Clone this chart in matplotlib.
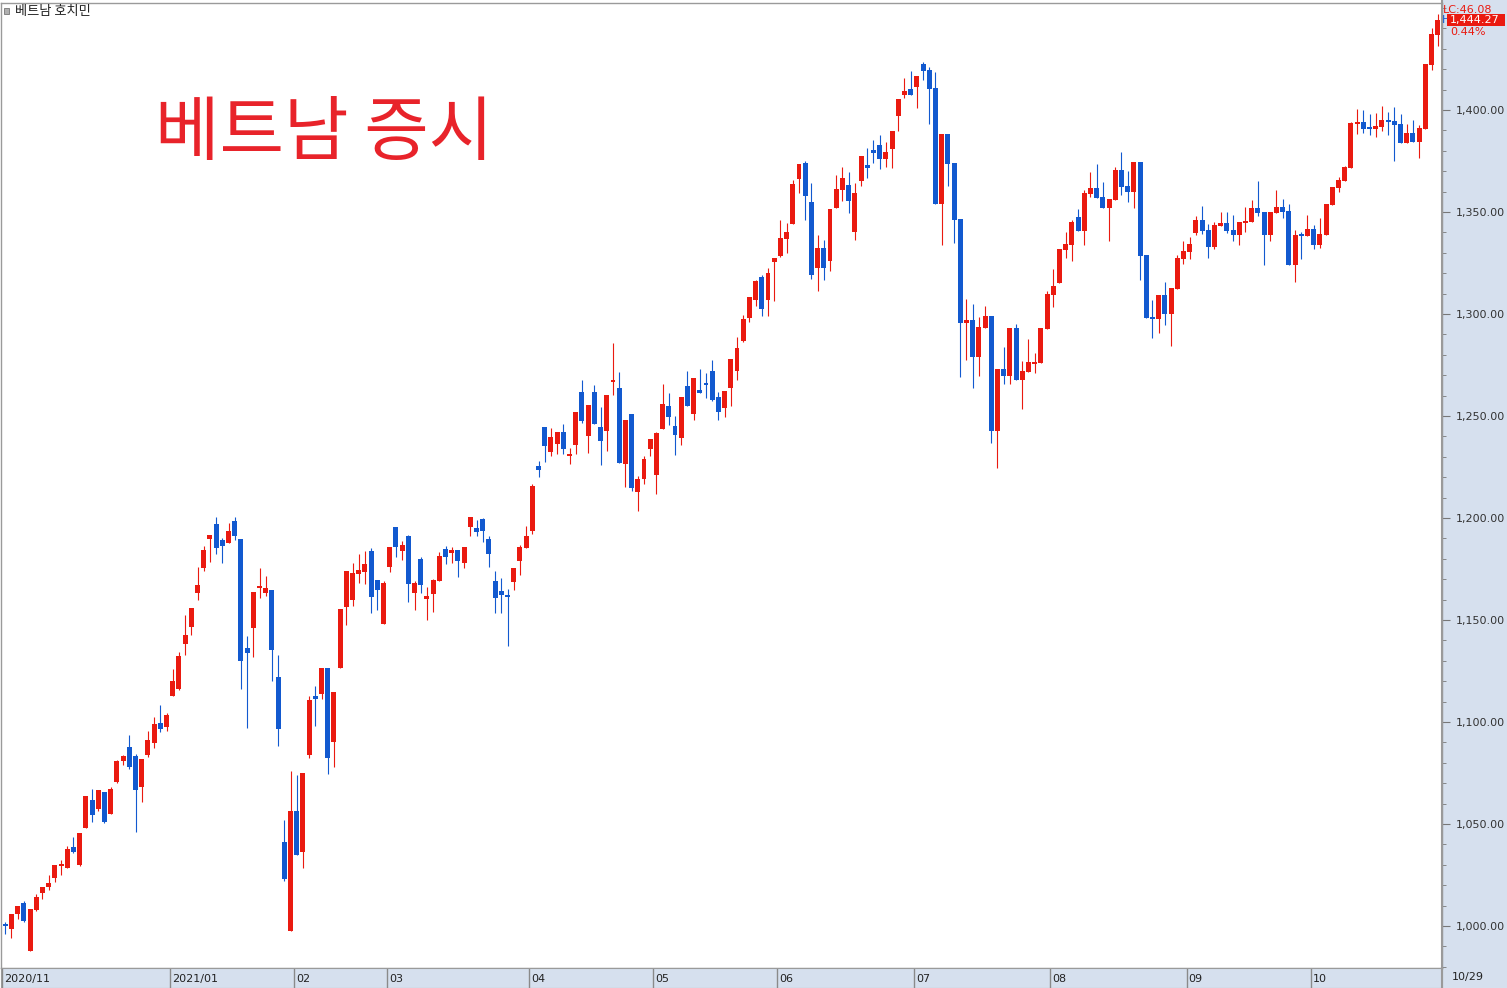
import matplotlib
matplotlib.use("Agg")
import matplotlib.pyplot as plt
from matplotlib.patches import Rectangle
import numpy as np

plt.rcParams['font.family'] = ['Noto Sans CJK KR', 'DejaVu Sans']

# daily OHLC (2020/11 .. 2021/10/29)
opens = [
    1000.5, 998.5, 1005.9, 1011.3, 987.9, 1007.8, 1016.2, 1019.1, 1023.5, 1029.6,
    1028.4, 1038.7, 1029.9, 1048.2, 1061.8, 1057.5, 1065.7, 1055.0, 1070.6, 1081.0,
    1087.7, 1083.3, 1068.3, 1083.8, 1089.7, 1099.5, 1097.5, 1112.7, 1116.2, 1138.2,
    1146.6, 1163.2, 1175.5, 1189.7, 1197.1, 1189.2, 1187.7, 1198.5, 1189.7, 1136.3,
    1146.1, 1165.7, 1163.2, 1164.7, 1122.1, 1041.2, 997.5, 1056.4, 1036.3, 1083.8,
    1112.7, 1113.7, 1126.5, 1090.2, 1126.5, 1156.4, 1159.8, 1172.5, 1173.5, 1183.8,
    1169.6, 1148.0, 1176.0, 1195.6, 1183.8, 1191.2, 1163.2, 1179.9, 1160.3, 1162.7,
    1169.1, 1184.8, 1182.8, 1184.3, 1177.9, 1195.6, 1195.1, 1199.5, 1189.7, 1169.1,
    1164.2, 1162.3, 1168.6, 1178.9, 1185.3, 1193.6, 1225.5, 1244.6, 1232.4, 1236.3,
    1242.2, 1230.4, 1235.8, 1261.8, 1240.2, 1261.8, 1244.6, 1242.6, 1266.7, 1263.7,
    1226.5, 1251.0, 1212.7, 1219.1, 1233.8, 1221.1, 1243.6, 1254.9, 1245.1, 1239.2,
    1264.7, 1251.0, 1262.7, 1266.2, 1272.1, 1259.3, 1253.9, 1263.7, 1272.1, 1286.8,
    1298.0, 1306.9, 1318.1, 1306.9, 1325.5, 1328.4, 1336.8, 1344.1, 1366.2, 1374.0,
    1354.9, 1322.5, 1332.4, 1326.0, 1352.0, 1360.8, 1363.2, 1340.2, 1365.2, 1373.0,
    1380.4, 1382.8, 1376.0, 1380.9, 1397.1, 1407.4, 1410.3, 1411.3, 1422.5, 1419.6,
    1410.8, 1353.9, 1388.2, 1374.0, 1346.6, 1295.6, 1297.1, 1278.9, 1293.1, 1299.0,
    1242.6, 1273.0, 1269.6, 1293.1, 1267.6, 1271.6, 1275.5, 1276.0, 1292.6, 1309.3,
    1315.2, 1331.4, 1333.8, 1347.5, 1340.7, 1358.8, 1361.8, 1357.4, 1352.0, 1355.9,
    1370.6, 1362.7, 1359.8, 1374.5, 1328.9, 1298.5, 1297.5, 1309.3, 1300.0, 1312.3,
    1327.0, 1330.4, 1339.7, 1346.1, 1341.2, 1332.8, 1343.1, 1344.6, 1341.2, 1338.7,
    1344.6, 1345.1, 1352.0, 1350.0, 1338.7, 1349.5, 1352.5, 1350.5, 1324.0, 1338.7,
    1338.2, 1341.7, 1333.8, 1338.7, 1353.4, 1361.8, 1365.2, 1371.6, 1393.1, 1394.1,
    1391.2, 1390.7, 1391.7, 1395.1, 1394.6, 1393.1, 1383.8, 1388.7, 1384.3, 1390.7,
    1422.0, 1436.8,
]
highs = [
    1002.0, 1006.0, 1009.8, 1012.3, 1008.3, 1015.7, 1019.1, 1025.0, 1029.9, 1032.4,
    1039.2, 1043.6, 1045.6, 1063.7, 1067.2, 1066.7, 1065.7, 1068.1, 1081.4, 1083.8,
    1093.6, 1084.3, 1081.9, 1095.6, 1102.5, 1108.3, 1104.4, 1126.0, 1134.3, 1152.5,
    1155.9, 1176.0, 1186.3, 1191.7, 1200.5, 1190.2, 1197.5, 1200.5, 1189.7, 1142.2,
    1163.7, 1175.5, 1171.6, 1164.7, 1132.8, 1052.0, 1076.0, 1074.0, 1075.0, 1112.7,
    1117.6, 1126.5, 1126.5, 1114.7, 1155.4, 1174.0, 1177.9, 1182.4, 1183.8, 1185.3,
    1169.6, 1169.1, 1185.8, 1195.6, 1188.7, 1191.7, 1169.1, 1180.9, 1166.2, 1170.1,
    1183.3, 1186.3, 1185.8, 1184.3, 1185.8, 1200.5, 1199.0, 1200.0, 1191.2, 1174.0,
    1170.6, 1165.2, 1175.5, 1186.8, 1196.1, 1216.7, 1227.9, 1244.6, 1244.1, 1242.2,
    1246.1, 1234.3, 1252.0, 1267.6, 1255.4, 1265.2, 1254.4, 1260.3, 1285.8, 1271.6,
    1248.0, 1251.0, 1220.6, 1230.4, 1238.7, 1242.2, 1265.7, 1261.3, 1250.0, 1259.3,
    1272.1, 1268.6, 1273.0, 1271.1, 1277.5, 1261.8, 1262.3, 1277.9, 1288.7, 1299.5,
    1308.3, 1316.7, 1319.1, 1322.5, 1327.5, 1346.1, 1344.6, 1365.7, 1373.5, 1375.0,
    1364.2, 1338.7, 1336.3, 1351.5, 1368.1, 1372.1, 1369.6, 1364.2, 1377.5, 1381.4,
    1385.3, 1387.7, 1384.3, 1389.7, 1405.4, 1415.7, 1419.1, 1416.7, 1423.5, 1421.1,
    1418.6, 1388.2, 1388.2, 1374.0, 1346.6, 1307.4, 1304.9, 1298.5, 1303.9, 1299.0,
    1273.0, 1283.8, 1293.1, 1295.1, 1277.0, 1287.7, 1280.9, 1293.1, 1311.3, 1322.1,
    1331.9, 1340.2, 1346.1, 1351.5, 1360.8, 1369.6, 1373.5, 1364.7, 1356.4, 1372.1,
    1379.4, 1370.1, 1374.5, 1374.5, 1328.9, 1306.9, 1309.3, 1315.7, 1312.7, 1329.0,
    1335.8, 1337.7, 1348.0, 1352.9, 1344.1, 1345.1, 1350.0, 1350.0, 1348.5, 1345.1,
    1352.5, 1355.9, 1365.2, 1350.0, 1350.0, 1360.8, 1356.4, 1353.9, 1341.2, 1340.2,
    1348.5, 1343.6, 1347.1, 1353.9, 1362.3, 1367.2, 1372.5, 1394.1, 1400.5, 1400.0,
    1398.0, 1398.5, 1402.0, 1399.0, 1401.5, 1398.0, 1393.1, 1395.1, 1392.6, 1422.5,
    1440.2, 1447.1,
]
lows = [
    996.0, 994.3, 1003.6, 1002.0, 987.9, 1007.4, 1013.2, 1017.6, 1021.6, 1025.0,
    1028.4, 1035.8, 1029.4, 1048.2, 1051.1, 1056.5, 1050.6, 1055.0, 1070.1, 1078.9,
    1077.0, 1046.2, 1060.9, 1082.8, 1087.3, 1095.1, 1095.6, 1112.7, 1115.7, 1132.8,
    1142.6, 1159.8, 1174.0, 1178.4, 1182.4, 1177.9, 1187.7, 1189.2, 1116.2, 1097.1,
    1131.9, 1160.8, 1161.8, 1120.1, 1088.2, 1022.1, 997.5, 1034.8, 1028.4, 1082.4,
    1098.0, 1111.3, 1074.5, 1077.9, 1126.5, 1147.5, 1156.9, 1168.1, 1167.6, 1153.4,
    1154.9, 1148.0, 1173.5, 1180.9, 1179.4, 1158.8, 1154.9, 1163.2, 1150.0, 1153.9,
    1169.1, 1177.5, 1177.9, 1171.1, 1175.5, 1191.2, 1191.2, 1188.2, 1176.0, 1153.4,
    1153.4, 1137.3, 1164.7, 1172.0, 1185.3, 1192.2, 1220.1, 1227.5, 1230.4, 1231.4,
    1231.4, 1226.5, 1231.4, 1246.6, 1231.9, 1246.1, 1226.0, 1232.8, 1260.3, 1227.0,
    1215.2, 1213.2, 1203.4, 1216.7, 1230.4, 1211.8, 1243.6, 1245.6, 1230.9, 1235.8,
    1254.9, 1248.0, 1261.3, 1258.8, 1257.4, 1248.0, 1249.5, 1254.9, 1267.6, 1286.3,
    1296.1, 1303.9, 1299.0, 1299.0, 1306.4, 1327.9, 1329.9, 1344.1, 1359.3, 1346.1,
    1317.2, 1311.3, 1316.7, 1321.1, 1352.0, 1355.4, 1349.5, 1336.3, 1362.7, 1366.7,
    1374.0, 1371.1, 1372.1, 1371.6, 1389.7, 1405.9, 1407.4, 1401.0, 1414.7, 1393.1,
    1353.9, 1333.8, 1362.7, 1334.8, 1269.1, 1277.5, 1263.7, 1269.6, 1293.1, 1236.8,
    1224.5, 1265.7, 1265.7, 1267.6, 1253.4, 1271.6, 1271.1, 1276.0, 1292.6, 1303.4,
    1315.2, 1327.5, 1326.0, 1340.7, 1333.8, 1357.4, 1356.9, 1352.0, 1335.8, 1355.9,
    1358.3, 1354.9, 1352.0, 1316.7, 1298.0, 1288.2, 1290.7, 1294.6, 1284.3, 1312.3,
    1324.5, 1327.0, 1338.7, 1339.2, 1327.5, 1331.9, 1343.1, 1339.7, 1335.8, 1333.8,
    1340.2, 1345.1, 1348.0, 1324.0, 1335.8, 1349.5, 1347.1, 1324.0, 1315.7, 1327.0,
    1338.2, 1331.9, 1332.4, 1338.7, 1353.4, 1359.8, 1365.2, 1371.6, 1388.2, 1388.7,
    1387.7, 1386.8, 1389.7, 1387.7, 1375.0, 1383.8, 1383.8, 1384.3, 1376.5, 1390.7,
    1419.6, 1431.4,
]
closes = [
    1000.0, 1005.9, 1009.8, 1002.5, 1008.3, 1014.2, 1019.1, 1021.1, 1029.9, 1030.2,
    1037.7, 1036.3, 1045.6, 1063.7, 1054.6, 1066.7, 1051.1, 1067.2, 1080.9, 1083.3,
    1077.9, 1066.8, 1081.9, 1091.2, 1099.0, 1096.6, 1103.4, 1120.1, 1132.4, 1142.6,
    1155.9, 1167.2, 1184.3, 1191.7, 1185.3, 1186.3, 1193.6, 1191.2, 1129.9, 1133.8,
    1163.7, 1166.2, 1165.7, 1135.3, 1096.6, 1023.0, 1056.4, 1034.8, 1075.0, 1110.8,
    1111.3, 1126.5, 1082.4, 1114.7, 1155.4, 1174.0, 1173.0, 1174.5, 1177.5, 1161.3,
    1164.7, 1168.1, 1185.8, 1185.8, 1186.8, 1167.6, 1168.1, 1167.2, 1161.8, 1169.6,
    1181.4, 1180.9, 1184.3, 1178.9, 1185.8, 1200.5, 1193.1, 1193.6, 1182.4, 1160.8,
    1162.3, 1161.3, 1175.5, 1185.8, 1191.2, 1215.7, 1223.5, 1235.3, 1239.7, 1242.2,
    1233.8, 1231.4, 1252.0, 1247.5, 1255.4, 1246.1, 1237.7, 1260.3, 1267.6, 1227.0,
    1248.0, 1214.7, 1219.1, 1228.9, 1238.7, 1241.7, 1255.9, 1249.5, 1240.7, 1259.3,
    1254.9, 1268.6, 1261.3, 1265.2, 1257.8, 1252.0, 1262.3, 1277.9, 1283.3, 1297.5,
    1308.3, 1316.2, 1302.5, 1320.1, 1327.5, 1337.3, 1340.2, 1363.7, 1373.5, 1357.8,
    1319.1, 1332.4, 1322.5, 1351.5, 1361.3, 1366.7, 1355.4, 1359.3, 1377.5, 1371.6,
    1378.9, 1376.0, 1379.4, 1389.7, 1405.4, 1409.3, 1407.4, 1416.7, 1419.1, 1410.3,
    1353.9, 1388.2, 1373.5, 1346.1, 1295.6, 1297.1, 1278.9, 1293.6, 1299.0, 1242.6,
    1273.0, 1269.6, 1293.1, 1267.6, 1272.1, 1276.5, 1276.0, 1293.1, 1309.8, 1313.7,
    1331.9, 1334.3, 1345.1, 1340.7, 1359.3, 1361.8, 1356.9, 1352.0, 1356.4, 1370.6,
    1362.3, 1359.8, 1374.5, 1328.4, 1298.0, 1297.5, 1309.3, 1300.0, 1312.7, 1327.5,
    1330.9, 1334.3, 1346.1, 1340.7, 1332.8, 1343.6, 1344.6, 1340.7, 1338.7, 1345.1,
    1345.6, 1352.0, 1349.5, 1338.7, 1350.0, 1352.5, 1350.0, 1324.0, 1338.7, 1338.2,
    1341.7, 1333.8, 1339.2, 1353.9, 1362.3, 1365.7, 1372.1, 1393.6, 1394.1, 1390.7,
    1390.7, 1392.2, 1395.1, 1394.1, 1392.6, 1383.8, 1388.7, 1384.3, 1391.2, 1422.5,
    1437.3, 1444.3,
]

month_labels = ["2020/11", "2021/01", "02", "03", "04", "05", "06", "07", "08", "09", "10"]
month_start_idx = [0, 27, 47, 62, 85, 105, 125, 147, 169, 191, 211]
last_date = "10/29"

y_ticks = [1000, 1050, 1100, 1150, 1200, 1250, 1300, 1350, 1400]
title = "베트남 증시"
name = "베트남 호치민"
last_change = "LC:46.08"
last_price = "1,444.27"
last_pct = "0.44%"

RED = "#ea1a10"
BLUE = "#1259cf"
PANEL = "#d6e0ee"
EDGE = "#9a9a9a"

W, H = 1507, 988
fig = plt.figure(figsize=(W / 100, H / 100), dpi=100)
fig.patch.set_facecolor("white")

# right price panel background
side = fig.add_axes([1442 / W, 0, 65 / W, 1], zorder=0)
side.set_facecolor(PANEL)
side.set_xticks([])
side.set_yticks([])
for s in side.spines.values():
    s.set_visible(False)

ax = fig.add_axes([1 / W, 20 / H, 1441 / W, 965 / H], zorder=1)
ax.set_facecolor("white")

x = np.arange(len(closes))
o = np.array(opens)
c = np.array(closes)
up = c >= o
cols = np.where(up, RED, BLUE)

ax.vlines(x, lows, highs, colors=cols, linewidth=0.8, zorder=2)
body_lo = np.minimum(o, c)
body_h = np.maximum(np.abs(c - o), 0.9)
ax.bar(x, body_h, bottom=body_lo, width=0.8, color=cols, linewidth=0, zorder=3)

ax.set_xlim(-0.69, 231.69)
ax.set_ylim(979.4, 1452.5)
ax.set_xticks([])

ax.yaxis.tick_right()
ax.set_yticks(y_ticks)
ax.set_yticklabels([f"{v:,.2f}" for v in y_ticks])
ax.set_yticks(np.arange(980, 1451, 10), minor=True)
ax.tick_params(axis="y", which="major", length=6, color="#777777", labelsize=8,
               labelcolor="#333333", pad=4)
ax.tick_params(axis="y", which="minor", length=3, color="#777777")
for lab in ax.get_yticklabels():
    lab.set_family(["DejaVu Sans"])
for s in ax.spines.values():
    s.set_color(EDGE)
    s.set_linewidth(1)

# bottom date strip
bot = fig.add_axes([1 / W, 0, 1441 / W, 20 / H], zorder=1)
bot.set_facecolor(PANEL)
bot.set_xlim(ax.get_xlim())
bot.set_ylim(0, 1)
bot.set_xticks([])
bot.set_yticks([])
for s in bot.spines.values():
    s.set_color(EDGE)
for lab, i in zip(month_labels, month_start_idx):
    bot.axvline(i - 0.5, color="#8a8a8a", linewidth=1)
    bot.text(i - 0.5 + 0.35, 0.45, lab, fontsize=8, va="center", ha="left",
             color="#222222", family=["DejaVu Sans"])
fig.text(1452 / W, 1 - 977 / H, last_date, fontsize=8, va="center", ha="left",
         color="#222222", family=["DejaVu Sans"])
fig.add_artist(plt.Line2D([1442 / W, 1442 / W], [0, 1], transform=fig.transFigure,
                          color=EDGE, linewidth=1.5))

# headline and name
fig.text(155 / W, 1 - 134 / H, title, fontsize=50.5, color="#e8232a", va="center", ha="left")
fig.patches.append(Rectangle((4 / W, 1 - 14 / H), 5 / W, 6 / H, transform=fig.transFigure,
                             facecolor="#b0b0b0", edgecolor="#777777", linewidth=0.6))
fig.text(15 / W, 1 - 12 / H, name, fontsize=9.5, color="#222222", va="center", ha="left")

# last price box
fig.text(1443 / W, 1 - 10 / H, last_change, fontsize=8, color=RED, va="center", ha="left",
         family=["DejaVu Sans"])
fig.text(1442 / W, 1 - 20 / H, "H", fontsize=8, color=BLUE, va="center", ha="left",
         family=["DejaVu Sans"])
fig.patches.append(Rectangle((1447 / W, 1 - 26 / H), 58 / W, 12 / H, transform=fig.transFigure,
                             facecolor=RED, edgecolor="none", zorder=5))
fig.text(1450 / W, 1 - 20 / H, last_price, fontsize=8, color="white", va="center", ha="left",
         family=["DejaVu Sans"], zorder=6)
fig.text(1450 / W, 1 - 32 / H, last_pct, fontsize=8, color=RED, va="center", ha="left",
         family=["DejaVu Sans"])

fig.savefig("out.png", dpi=100)
